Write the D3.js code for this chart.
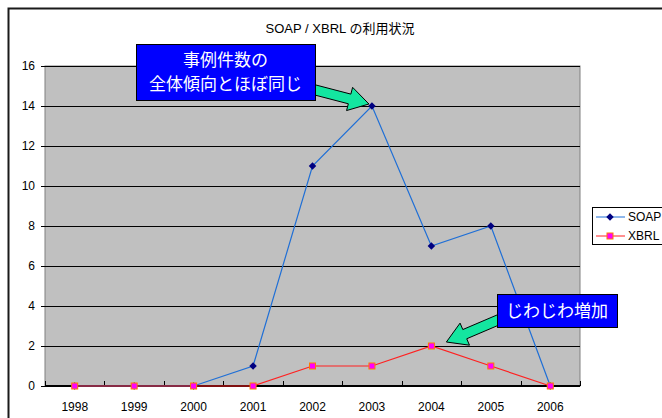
<!DOCTYPE html>
<html>
<head>
<meta charset="utf-8">
<script src="https://cdn.jsdelivr.net/npm/d3@7"></script>
<style>
  body { margin: 0; background: #fff; }
  text { font-family: "Liberation Sans", Arial, "Noto Sans CJK JP", sans-serif; }
  .jp { font-family: "Noto Sans CJK JP", sans-serif; }
</style>
</head>
<body>
<div id="chart"></div>
<script>
let years  = ["1998", "1999", "2000", "2001", "2002", "2003", "2004", "2005", "2006"];
let soap   = [0, 0, 0, 1, 11, 14, 7, 8, 0];
let xbrl   = [0, 0, 0, 0, 1, 1, 2, 1, 0];
let yTicks = [0, 2, 4, 6, 8, 10, 12, 14, 16];

let width = 662, height = 418;
let plot = {left: 45, right: 580, top: 66, bottom: 386};

let svg = d3.select("#chart")
  .append("svg")
    .attr("width", width)
    .attr("height", height);

// outer chart frame (runs off the right/bottom edge)
svg.append("rect")
    .attr("x", 8.5).attr("y", 8.5)
    .attr("width", 720).attr("height", 440)
    .attr("fill", "#fff")
    .attr("stroke", "#1a1a1a")
    .attr("stroke-width", 2);

svg.append("text")
    .attr("x", 340).attr("y", 33)
    .attr("text-anchor", "middle")
    .attr("font-size", 13)
    .text("SOAP / XBRL の利用状況");

let x = d3.scaleBand()
    .domain(years)
    .range([plot.left, plot.right]);

let y = d3.scaleLinear()
    .domain([0, 16])
    .range([plot.bottom, plot.top]);

let cx = function(d) { return x(d) + x.bandwidth() / 2; };

svg.append("rect")
    .attr("x", plot.left).attr("y", plot.top)
    .attr("width", plot.right - plot.left)
    .attr("height", plot.bottom - plot.top)
    .attr("fill", "#c0c0c0")
    .attr("stroke", "#808080");

// gridlines + left ticks
svg.append("g")
    .selectAll("line")
    .data(yTicks)
    .enter()
  .append("line")
    .attr("x1", plot.left - 4).attr("x2", plot.right)
    .attr("y1", function(d) { return Math.round(y(d)) + 0.5; })
    .attr("y2", function(d) { return Math.round(y(d)) + 0.5; })
    .attr("stroke", "#000");

let yAxis = svg.append("g")
    .attr("transform", "translate(" + (plot.left - 4) + ",0)")
    .call(d3.axisLeft(y).tickValues(yTicks).tickSize(0).tickPadding(6));
yAxis.select(".domain").remove();
yAxis.selectAll("text").attr("font-size", 12);

// x axis line and category boundary ticks
svg.append("line")
    .attr("x1", plot.left).attr("x2", plot.right)
    .attr("y1", plot.bottom).attr("y2", plot.bottom)
    .attr("stroke", "#000").attr("stroke-width", 2);

svg.append("g")
    .selectAll("line")
    .data(years.concat(["end"]))
    .enter()
  .append("line")
    .attr("x1", function(d, i) { return Math.round(plot.left + i * x.bandwidth()) + 0.5; })
    .attr("x2", function(d, i) { return Math.round(plot.left + i * x.bandwidth()) + 0.5; })
    .attr("y1", plot.bottom - 5).attr("y2", plot.bottom)
    .attr("stroke", "#000");

let xAxis = svg.append("g")
    .attr("transform", "translate(0," + plot.bottom + ")")
    .call(d3.axisBottom(x).tickSize(0).tickPadding(16));
xAxis.select(".domain").remove();
xAxis.selectAll("text").attr("font-size", 12);

let line = d3.line()
    .x(function(d, i) { return cx(years[i]); })
    .y(function(d) { return y(d); });

svg.append("path")
    .datum(soap)
    .attr("d", line)
    .attr("fill", "none")
    .attr("stroke", "#1f6fd6")
    .attr("stroke-width", 1.2);

svg.append("path")
    .datum(xbrl)
    .attr("d", line)
    .attr("fill", "none")
    .attr("stroke", "#ff2020")
    .attr("stroke-width", 1.2);

let diamond = d3.symbol().type(d3.symbolDiamond2).size(36);

svg.append("g")
    .selectAll("path")
    .data(soap)
    .enter()
  .append("path")
    .attr("d", diamond)
    .attr("transform", function(d, i) { return translate(cx(years[i]), y(d)); })
    .attr("fill", "#000080");

svg.append("g")
    .selectAll("rect")
    .data(xbrl)
    .enter()
  .append("rect")
    .attr("x", function(d, i) { return cx(years[i]) - 3; })
    .attr("y", function(d) { return y(d) - 3; })
    .attr("width", 6).attr("height", 6)
    .attr("fill", "#ff00ff")
    .attr("stroke", "#ff7a00")
    .attr("stroke-width", 1);

// legend
let legend = svg.append("g");
legend.append("rect")
    .attr("x", 592.5).attr("y", 207.5)
    .attr("width", 100).attr("height", 37)
    .attr("fill", "#fff").attr("stroke", "#000");

let entries = [
  {name: "SOAP", color: "#1f6fd6"},
  {name: "XBRL", color: "#ff2020"}
];
entries.forEach(function(e, i) {
  let ly = 217 + i * 19;
  legend.append("line")
      .attr("x1", 596).attr("x2", 625)
      .attr("y1", ly).attr("y2", ly)
      .attr("stroke", e.color);
  if (i === 0) {
    legend.append("path").attr("d", diamond)
        .attr("transform", translate(610, ly))
        .attr("fill", "#000080");
  } else {
    legend.append("rect")
        .attr("x", 607).attr("y", ly - 3)
        .attr("width", 6).attr("height", 6)
        .attr("fill", "#ff00ff").attr("stroke", "#ff7a00");
  }
  legend.append("text")
      .attr("x", 628).attr("y", ly + 4)
      .attr("font-size", 12)
      .text(e.name);
});

// callouts
function blockArrow(x0, y0, x1, y1) {
  let dx = x1 - x0, dy = y1 - y0,
      len = Math.sqrt(dx * dx + dy * dy),
      ux = dx / len, uy = dy / len,
      px = -uy, py = ux,
      sw = 5, hw = 12, hl = 20,
      bx = x1 - ux * hl, by = y1 - uy * hl;
  let pts = [
    [x0 + px * sw, y0 + py * sw],
    [bx + px * sw, by + py * sw],
    [bx + px * hw, by + py * hw],
    [x1, y1],
    [bx - px * hw, by - py * hw],
    [bx - px * sw, by - py * sw],
    [x0 - px * sw, y0 - py * sw]
  ];
  return "M" + pts.map(function(p) { return p.join(","); }).join("L") + "Z";
}

function callout(box, lines, from, to) {
  svg.append("path")
      .attr("d", blockArrow(from[0], from[1], to[0], to[1]))
      .attr("fill", "#14e6a0")
      .attr("stroke", "#000")
      .attr("stroke-width", 1);
  svg.append("rect")
      .attr("x", box[0] + 0.5).attr("y", box[1] + 0.5)
      .attr("width", box[2]).attr("height", box[3])
      .attr("fill", "#0000ff")
      .attr("stroke", "#000");
  lines.forEach(function(t, i) {
    svg.append("text")
        .attr("class", "jp")
        .attr("x", box[0] + box[2] / 2)
        .attr("y", box[1] + box[3] / 2 + (i - (lines.length - 1) / 2) * 24 + 6)
        .attr("text-anchor", "middle")
        .attr("font-size", 17)
        .attr("fill", "#fff")
        .text(t);
  });
}

let p1 = [cx("2003"), y(soap[5])],
    p2 = [cx("2004"), y(xbrl[6])];

callout([136, 44, 179, 56], ["事例件数の", "全体傾向とほぼ同じ"],
        [300, 86], [p1[0] - 3, p1[1] - 2]);
callout([497, 294, 120, 33], ["じわじわ増加"],
        [505, 317], [p2[0] + 15, p2[1] - 4]);

function translate(x, y) {
  return "translate({x}, {y})"
          .replace("{x}", x)
          .replace("{y}", y);
}
</script>
</body>
</html>
